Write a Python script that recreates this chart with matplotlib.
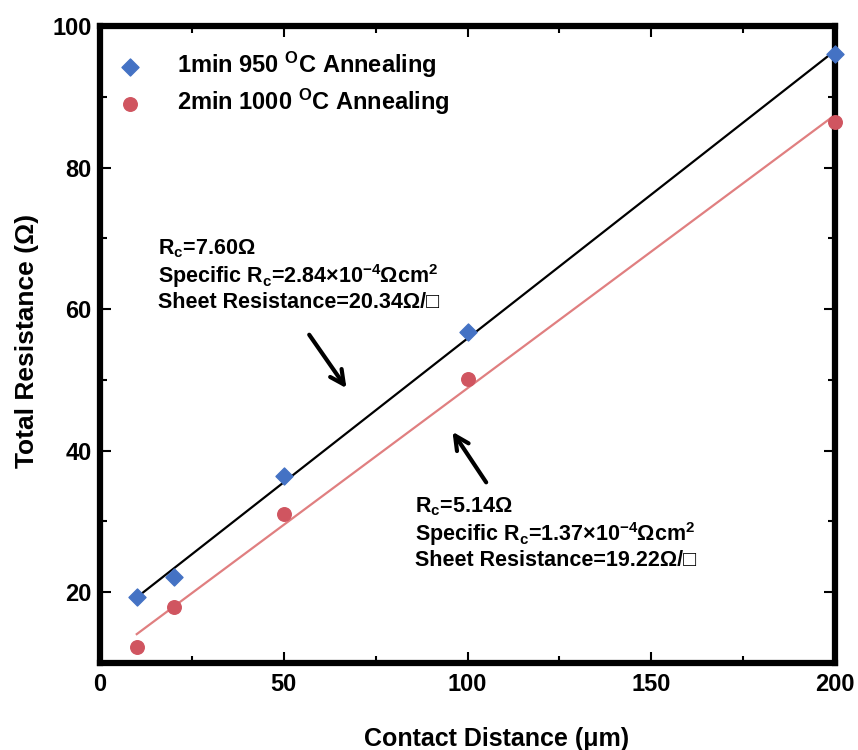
import numpy as np
import matplotlib
matplotlib.use('Agg')
import matplotlib.pyplot as plt

plt.rcParams['font.family'] = ['Liberation Sans', 'DejaVu Sans']
plt.rcParams['font.weight'] = 'bold'
plt.rcParams['mathtext.fontset'] = 'custom'
plt.rcParams['mathtext.rm'] = 'Liberation Sans:bold'
plt.rcParams['mathtext.bf'] = 'Liberation Sans:bold'
plt.rcParams['mathtext.it'] = 'Liberation Sans:bold'

# contact distance (um)
distance = [10, 20, 50, 100, 200]
# total resistance (ohm)
r_950 = [19.3, 22.1, 36.4, 56.7, 96.0]
r_1000 = [12.2, 17.9, 31.1, 50.1, 86.5]

labels = ['1min 950 $^{\\mathregular{O}}$C Annealing',
          '2min 1000 $^{\\mathregular{O}}$C Annealing']

note_950 = ('R$_\\mathregular{c}$=7.60\u03a9\n'
            'Specific R$_\\mathregular{c}$=2.84\u00d710$^{\\mathregular{-4}}$\u03a9cm$^\\mathregular{2}$\n'
            'Sheet Resistance=20.34\u03a9/\u25a1')
note_1000 = ('R$_\\mathregular{c}$=5.14\u03a9\n'
             'Specific R$_\\mathregular{c}$=1.37\u00d710$^{\\mathregular{-4}}$\u03a9cm$^\\mathregular{2}$\n'
             'Sheet Resistance=19.22\u03a9/\u25a1')

x = np.array(distance, dtype=float)

fig = plt.figure(figsize=(8.58, 7.5), dpi=100)
ax = fig.add_axes([100/858, 87/750, 735/858, 637/750])

# linear fits
for ys, col in [(r_950, 'black'), (r_1000, '#E07F80')]:
    k, b = np.polyfit(x, ys, 1)
    xx = np.array([x.min(), x.max()])
    ax.plot(xx, k*xx + b, color=col, lw=1.6, zorder=2)

ax.scatter(distance, r_950, marker='D', s=75, color='#4472C4', label=labels[0], zorder=3, clip_on=False)
ax.scatter(distance, r_1000, marker='o', s=95, color='#D05560', label=labels[1], zorder=3, clip_on=False)

ax.set_xlim(0, 200)
ax.set_ylim(10, 100)
ax.set_xticks([0, 50, 100, 150, 200])
ax.set_xticks([25, 75, 125, 175], minor=True)
ax.set_yticks([20, 40, 60, 80, 100])
ax.set_yticks([30, 50, 70, 90], minor=True)
ax.tick_params(which='both', direction='in', top=True, right=True, labelsize=17, width=1.5)
ax.tick_params(which='major', length=8)
ax.tick_params(which='minor', length=5)
ax.tick_params(axis='x', pad=7)
ax.tick_params(axis='y', pad=6)
for s in ax.spines.values():
    s.set_linewidth(4.5)

ax.set_xlabel('Contact Distance (\u03bcm)', fontsize=18, fontweight='bold')
ax.set_ylabel('Total Resistance (\u03a9)', fontsize=19, fontweight='bold')
ax.xaxis.set_label_coords(0.54, -0.101)
ax.yaxis.set_label_coords(-0.083, 0.505)

ax.legend(loc='upper left', frameon=False, fontsize=17, handlelength=1.0, handletextpad=1.5,
          borderaxespad=0.36, labelspacing=0.29, bbox_to_anchor=(0.0, 0.991))

ax.text(15.8, 70.2, note_950, fontsize=15.5, fontweight='bold', va='top', ha='left', linespacing=1.12)
ax.text(85.7, 33.7, note_1000, fontsize=15.5, fontweight='bold', va='top', ha='left', linespacing=1.12)

ax.annotate('', xy=(67.5, 48.5), xytext=(56.5, 56.7),
            arrowprops=dict(arrowstyle='->', lw=3, color='black', mutation_scale=25))
ax.annotate('', xy=(95.5, 43.0), xytext=(105.5, 35.2),
            arrowprops=dict(arrowstyle='->', lw=3, color='black', mutation_scale=25))

fig.savefig('out.png', dpi=100)
